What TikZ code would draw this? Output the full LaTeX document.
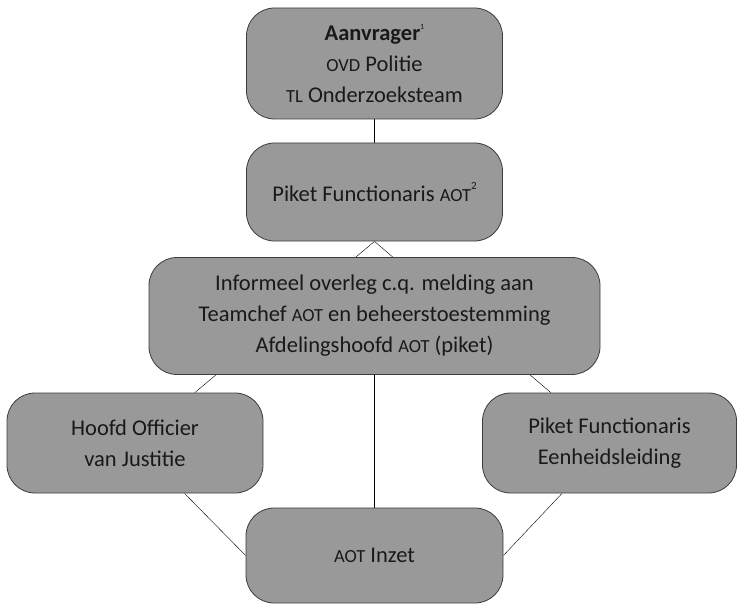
\documentclass[tikz,border=0pt]{standalone}
\usepackage{fontspec}
\setmainfont{Carlito}
\usetikzlibrary{backgrounds}
\definecolor{boxgray}{RGB}{153,153,153}
\definecolor{rimgray}{RGB}{60,60,60}
\newcommand{\ksc}[1]{{\fontsize{18.5}{31}\selectfont #1}}
\newcommand{\noot}[2]{\raisebox{0.5em}{\fontsize{#1}{#1}\selectfont #2}}
\begin{document}
\begin{tikzpicture}[x=1pt,y=-1pt,line width=0.8pt]
        \tikzstyle{every node}=[draw=rimgray,fill=boxgray,rounded corners=28pt,align=center,inner sep=0pt,text=black!90,font=\fontsize{22.5}{31}\selectfont];
        \useasboundingbox (0,0) rectangle (738,604);
        \node[minimum width=256pt,minimum height=111pt] (aanv) at (374.5,63.5) {\textbf{Aanvrager}\noot{8}{1}\\\ksc{OVD} Politie\\\ksc{TL} Onderzoeksteam};
        \node[minimum width=256pt,minimum height=98pt] (piket) at (374.5,192) {Piket Functionaris \ksc{AOT}\noot{11}{2}};
        \node[minimum width=451pt,minimum height=117pt] (overleg) at (374.5,316) {Informeel overleg c.q. melding aan\\Teamchef \ksc{AOT} en beheerstoestemming\\Afdelingshoofd \ksc{AOT} (piket)};
        \node[minimum width=256pt,minimum height=100pt] (hovj) at (135,443) {Hoofd Officier\\van Justitie};
        \node[minimum width=254pt,minimum height=100pt] (pfel) at (609.5,443) {Piket Functionaris\\Eenheidsleiding};
        \node[minimum width=257pt,minimum height=95pt] (inzet) at (374.5,555.5) {\ksc{AOT} Inzet};
        \begin{scope}[on background layer,draw=black!85]
          \draw (aanv) -- (piket);
          \draw (piket.south) -- (hovj);
          \draw (piket.south) -- (pfel);
          \draw (overleg) -- (inzet);
          \draw (hovj) -- (inzet.west);
          \draw (pfel) -- (inzet.east);
        \end{scope}
      \end{tikzpicture}
\end{document}
